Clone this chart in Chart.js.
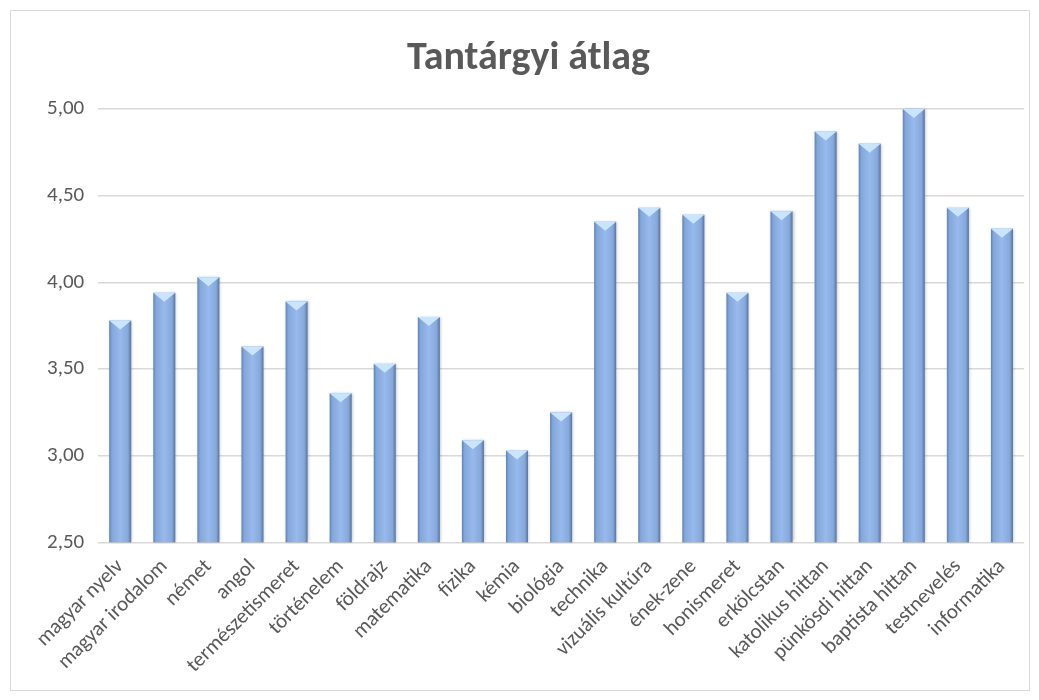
<!DOCTYPE html>
<html>
<head>
<meta charset="utf-8">
<script src="https://cdn.jsdelivr.net/npm/chart.js@4.4.0/dist/chart.umd.min.js"></script>
<style>
  body { margin: 0; background: #fff; }
  .wrap { position: absolute; left: 10px; top: 10px; width: 1018px; height: 679px; border: 1px solid #d9d9d9; }
</style>
</head>
<body>
<div class="wrap">
  <canvas id="myChart" width="1018" height="679"></canvas>
</div>
<script>
// tantárgyak
const subjects = ['magyar nyelv', 'magyar irodalom', 'német', 'angol', 'természetismeret',
  'történelem', 'földrajz', 'matematika', 'fizika', 'kémia', 'biológia', 'technika',
  'vizuális kultúra', 'ének-zene', 'honismeret', 'erkölcstan', 'katolikus hittan',
  'pünkösdi hittan', 'baptista hittan', 'testnevelés', 'informatika'];
const averages = [3.78, 3.94, 4.03, 3.63, 3.89, 3.36, 3.53, 3.80, 3.09, 3.03, 3.25,
  4.35, 4.43, 4.39, 3.94, 4.41, 4.87, 4.80, 5.00, 4.43, 4.31];
const yTicks = [2.5, 3.0, 3.5, 4.0, 4.5, 5.0];

const fontFam = "Carlito, 'Open Sans', sans-serif";

// draws the shaded column look on top of the plain bars
const bevelBars = {
  id: 'bevelBars',
  afterDatasetsDraw(chart) {
    const ctx = chart.ctx;
    const area = chart.chartArea;
    chart.getDatasetMeta(0).data.forEach(bar => {
      const left = bar.x - bar.width / 2, right = bar.x + bar.width / 2;
      const top = bar.y, bottom = Math.min(bar.base, area.bottom);
      const g = ctx.createLinearGradient(left, 0, right, 0);
      g.addColorStop(0, '#5f82b5');
      g.addColorStop(0.12, '#84a7da');
      g.addColorStop(0.5, '#97b9ec');
      g.addColorStop(0.85, '#86a8da');
      g.addColorStop(1, '#56749f');
      ctx.save();
      ctx.shadowColor = 'rgba(0,0,0,0.25)';
      ctx.shadowBlur = 3;
      ctx.shadowOffsetX = 1;
      ctx.fillStyle = g;
      ctx.fillRect(left, top, right - left, bottom - top);
      ctx.restore();
      // light top bevel
      ctx.save();
      ctx.fillStyle = '#c9e4fb';
      ctx.beginPath();
      ctx.moveTo(left, top);
      ctx.lineTo(right, top);
      ctx.lineTo(bar.x, top + 9);
      ctx.closePath();
      ctx.fill();
      ctx.restore();
    });
  }
};

new Chart(document.getElementById('myChart').getContext('2d'), {
  type: 'bar',
  data: {
    labels: subjects,
    datasets: [{
      label: 'Tantárgyi átlag',
      data: averages,
      backgroundColor: 'rgba(0,0,0,0)',
      barPercentage: 0.5,
      categoryPercentage: 1.0
    }]
  },
  options: {
    responsive: false,
    animation: false,
    layout: { padding: { left: 22, right: 5, top: 8, bottom: 8 } },
    plugins: {
      legend: { display: false },
      tooltip: { enabled: false },
      title: {
        display: true,
        text: 'Tantárgyi átlag',
        color: '#595959',
        font: { family: fontFam, size: 40, weight: 'bold' },
        padding: { top: 16, bottom: 26 }
      }
    },
    scales: {
      x: {
        grid: { display: false },
        border: { display: false },
        ticks: {
          color: '#595959',
          font: { family: fontFam, size: 21 },
          minRotation: 45,
          maxRotation: 45,
          padding: 4
        }
      },
      y: {
        min: 2.5,
        max: 5,
        afterBuildTicks: axis => { axis.ticks = yTicks.map(v => ({ value: v })); },
        grid: { color: '#d9d9d9', lineWidth: 1.5, drawTicks: false },
        border: { display: false },
        ticks: {
          color: '#595959',
          font: { family: fontFam, size: 21 },
          padding: 14,
          callback: v => v.toFixed(2).replace('.', ',')
        }
      }
    }
  },
  plugins: [bevelBars]
});
</script>
</body>
</html>
